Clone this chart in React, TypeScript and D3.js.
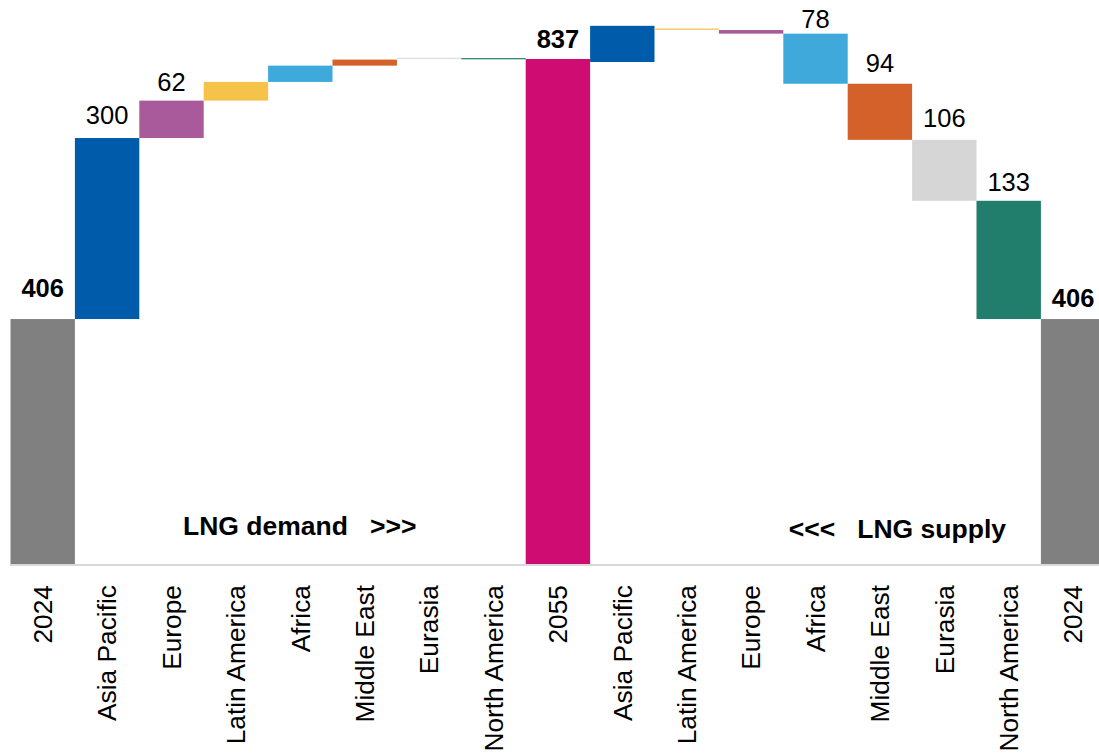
import React from "react";
import * as d3 from "d3";

const categories = [
  "2024", "Asia Pacific", "Europe", "Latin America", "Africa", "Middle East", "Eurasia", "North America",
  "2055", "Asia Pacific", "Latin America", "Europe", "Africa", "Middle East", "Eurasia", "North America", "2024",
];
// bar extents in data units (bcm)
const barLow = [0, 406, 706, 768, 799, 826, 837.5, 836.5, 0, 832, 885.5, 879, 796, 703, 602, 406, 0];
const barHigh = [406, 706, 768, 799, 826, 836, 839, 838.5, 837, 892, 887.5, 885, 879, 796, 703, 602, 406];
const valueLabels = ["406", "300", "62", "", "", "", "", "", "837", "", "", "", "78", "94", "106", "133", "406"];
const isTotal = [true, false, false, false, false, false, false, false, true, false, false, false, false, false, false, false, true];
const regionColors: Record<string, string> = {
  "Asia Pacific": "#005BAA",
  Europe: "#A95A9A",
  "Latin America": "#F5C24A",
  Africa: "#3EA9DA",
  "Middle East": "#D4602A",
  Eurasia: "#D6D6D6",
  "North America": "#217E6C",
  "2024": "#808080",
  "2055": "#CF0C72",
};
const labelLift = [22, 14, 10, 0, 0, 0, 0, 0, 11, 0, 0, 0, 6, 12, 13, 10, 12];

const W = 1099;
const H = 754;
const FONT = "'Liberation Sans', Arial, sans-serif";

export default function App() {
  const idx = categories.map((_, i) => String(i));
  const x = d3.scaleBand<string>().domain(idx).range([10.5, 10.5 + 17 * 64.4]).padding(0);
  const y = d3.scaleLinear().domain([0, 837]).range([564, 59]);
  const bw = x.bandwidth();

  return (
    <svg width={W} height={H} style={{ position: "absolute", left: 0, top: 0, display: "block", background: "#fff" }}>
      {categories.map((c, i) => {
        const x0 = x(String(i))!;
        const yTop = y(barHigh[i]);
        const yBot = y(barLow[i]);
        return (
          <rect key={"b" + i} x={x0} y={yTop} width={bw} height={Math.max(1, yBot - yTop)} fill={regionColors[c]} />
        );
      })}
      <line x1={10} x2={W} y1={565} y2={565} stroke="#D9D9D9" strokeWidth={2} />
      {valueLabels.map((v, i) =>
        v ? (
          <text
            key={"v" + i}
            x={x(String(i))! + bw / 2}
            y={y(barHigh[i]) - labelLift[i]}
            textAnchor="middle"
            fontFamily={FONT}
            fontSize={25.5}
            fontWeight={isTotal[i] ? "bold" : "normal"}
            fill="#000"
          >
            {v}
          </text>
        ) : null
      )}
      {categories.map((c, i) => {
        const cx = x(String(i))! + bw / 2;
        return (
          <text
            key={"c" + i}
            transform={`translate(${cx},585) rotate(-90)`}
            textAnchor="end"
            dy="0.35em"
            fontFamily={FONT}
            fontSize={26.3}
            fill="#000"
          >
            {c}
          </text>
        );
      })}
      <text x={183} y={535} fontFamily={FONT} fontSize={26.5} fontWeight="bold" style={{ whiteSpace: "pre" }}>
        {"LNG demand   >>>"}
      </text>
      <text x={1006} y={538} textAnchor="end" fontFamily={FONT} fontSize={26.5} fontWeight="bold" style={{ whiteSpace: "pre" }}>
        {"<<<   LNG supply"}
      </text>
    </svg>
  );
}
